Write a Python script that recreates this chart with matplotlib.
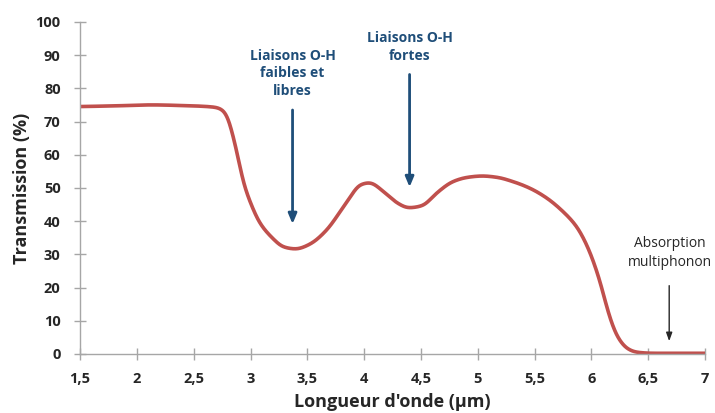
import matplotlib
matplotlib.use("Agg")
import matplotlib.pyplot as plt
import numpy as np

wavelength = [1.5, 1.8, 2.13, 2.4, 2.69, 2.76, 2.80, 2.84, 2.89, 2.93, 3.0, 3.08, 3.19, 3.29, 3.40,
              3.52, 3.67, 3.79, 3.88, 3.96, 4.05, 4.17, 4.29, 4.39, 4.51, 4.64, 4.78, 4.91, 5.04,
              5.17, 5.31, 5.46, 5.61, 5.75, 5.87, 5.93, 5.99, 6.08, 6.15, 6.23, 6.32, 6.40, 6.55, 6.8, 7.0]
transmission = [74.5, 74.7, 75.0, 74.8, 74.3, 73.4, 71.5, 66.5, 59.4, 52.4, 45.5, 39.5, 35.0, 32.2, 31.6,
                33.0, 37.3, 42.9, 47.4, 50.9, 51.6, 48.9, 45.5, 44.0, 44.6, 48.5, 51.9, 53.2, 53.6,
                53.2, 51.9, 49.9, 46.9, 42.9, 38.4, 34.9, 30.4, 21.4, 12.3, 5.1, 1.5, 0.5, 0.2, 0.2, 0.2]

x_ticks = [1.5, 2, 2.5, 3, 3.5, 4, 4.5, 5, 5.5, 6, 6.5, 7]
x_tick_labels = ["1,5", "2", "2,5", "3", "3,5", "4", "4,5", "5", "5,5", "6", "6,5", "7"]
y_ticks = list(range(0, 101, 10))


def pchip(x, y, xn):
    x = np.asarray(x, float); y = np.asarray(y, float)
    h = np.diff(x); d = np.diff(y) / h
    m = np.zeros_like(y)
    for k in range(1, len(x) - 1):
        if d[k-1] * d[k] <= 0:
            m[k] = 0.0
        else:
            w1 = 2*h[k] + h[k-1]; w2 = h[k] + 2*h[k-1]
            m[k] = (w1 + w2) / (w1/d[k-1] + w2/d[k])
    m[0] = d[0]; m[-1] = d[-1]
    idx = np.clip(np.searchsorted(x, xn) - 1, 0, len(x) - 2)
    t = (xn - x[idx]) / h[idx]
    h00 = 2*t**3 - 3*t**2 + 1; h10 = t**3 - 2*t**2 + t
    h01 = -2*t**3 + 3*t**2; h11 = t**3 - t**2
    return h00*y[idx] + h10*h[idx]*m[idx] + h01*y[idx+1] + h11*h[idx]*m[idx+1]


def smooth(v, dx, sigma):
    n = int(4 * sigma / dx)
    k = np.exp(-0.5 * (np.arange(-n, n + 1) * dx / sigma) ** 2)
    k /= k.sum()
    vp = np.concatenate([np.full(n, v[0]), v, np.full(n, v[-1])])
    return np.convolve(vp, k, mode="valid")


font = "Open Sans"
fig = plt.figure(figsize=(7.15, 4.13), dpi=100)
ax = fig.add_axes([0.112, 0.143, 0.874, 0.804])

xd = np.linspace(wavelength[0], wavelength[-1], 2201)
yd = smooth(pchip(wavelength, transmission, xd), xd[1] - xd[0], 0.028)
ax.plot(xd, yd, color="#C0504D", lw=2.6, solid_capstyle="round")

ax.set_xlim(1.5, 7)
ax.set_ylim(0, 100)
ax.set_xticks(x_ticks)
ax.set_xticklabels(x_tick_labels)
ax.set_yticks(y_ticks)
for s in ["top", "right"]:
    ax.spines[s].set_visible(False)
for s in ["left", "bottom"]:
    ax.spines[s].set_color("#A6A6A6")
    ax.spines[s].set_linewidth(1.0)
ax.tick_params(direction="inout", length=8, width=1.0, color="#A6A6A6")
ax.tick_params(axis="x", pad=9)
ax.tick_params(axis="y", pad=10)
for lab in ax.get_xticklabels() + ax.get_yticklabels():
    lab.set_fontfamily(font); lab.set_fontweight("bold"); lab.set_fontsize(10.5); lab.set_color("#262626")
ax.set_xlabel("Longueur d'onde (µm)", fontfamily=font, fontweight="bold", fontsize=13, color="#262626", labelpad=5)
ax.set_ylabel("Transmission (%)", fontfamily=font, fontweight="bold", fontsize=13, color="#262626", labelpad=3)

blue = "#1F4E79"
ax.text(3.37, 84.5, "Liaisons O-H\nfaibles et\nlibres", ha="center", va="center", color=blue,
        fontfamily=font, fontweight="bold", fontsize=10, linespacing=1.35)
ax.annotate("", xy=(3.37, 38.3), xytext=(3.37, 74.3),
            arrowprops=dict(arrowstyle="-|>,head_length=0.6,head_width=0.25", color=blue, lw=2))
ax.text(4.40, 92.5, "Liaisons O-H\nfortes", ha="center", va="center", color=blue,
        fontfamily=font, fontweight="bold", fontsize=10, linespacing=1.35)
ax.annotate("", xy=(4.40, 49.4), xytext=(4.40, 85),
            arrowprops=dict(arrowstyle="-|>,head_length=0.6,head_width=0.25", color=blue, lw=2))
ax.text(6.69, 30.5, "Absorption\nmultiphonon", ha="center", va="center", color="#262626",
        fontfamily=font, fontsize=10, linespacing=1.35)
ax.annotate("", xy=(6.685, 3.0), xytext=(6.685, 21.4),
            arrowprops=dict(arrowstyle="-|>,head_length=0.5,head_width=0.18", color="#262626", lw=1))

fig.savefig("out.png", dpi=100)
